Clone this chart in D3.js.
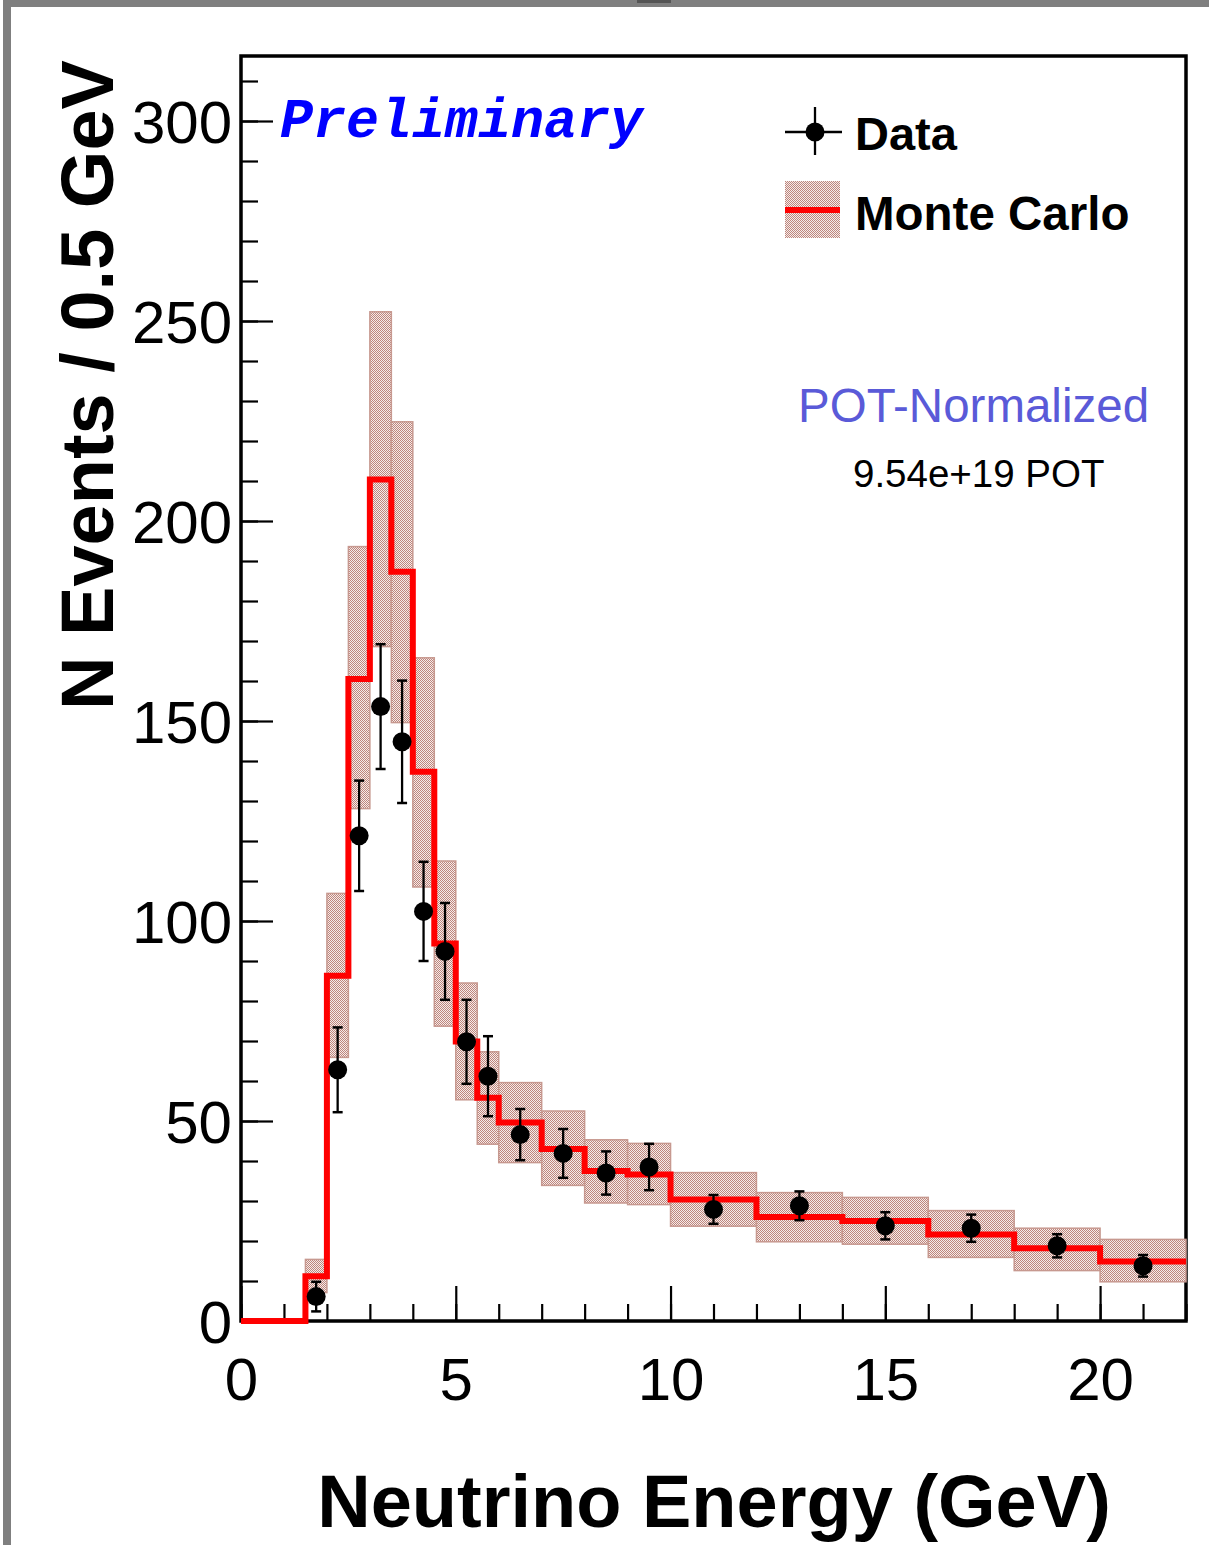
<!DOCTYPE html>
<html><head><meta charset="utf-8">
<script src="https://cdn.jsdelivr.net/npm/d3@7"></script>
<style>body{margin:0;background:#fff;overflow:hidden} svg{display:block}</style>
</head><body>
<script>
// ---- data ----
const binEdges = [0,0.5,1,1.5,2,2.5,3,3.5,4,4.5,5,5.5,6,7,8,9,10,12,14,16,18,20,22];
const mcValues = [0,0,0,11.2,86.3,160.5,210.4,187.3,137.3,94.4,69.9,55.8,49.6,43.0,37.5,36.6,30.4,26.0,25.0,21.6,18.2,14.9];
const mcLow    = [0,0,0,7.1,65.9,128.1,168.6,149.6,108.5,73.7,55.3,44.2,39.6,33.9,29.5,29.1,23.7,19.8,19.2,15.9,12.6,9.8];
const mcHigh   = [0,0,0,15.4,106.9,193.6,252.3,224.8,165.8,115.0,84.5,67.3,59.6,52.5,45.3,44.4,37.1,32.1,30.9,27.6,23.2,20.4];
const dataX    = [1.75,2.25,2.75,3.25,3.75,4.25,4.75,5.25,5.75,6.5,7.5,8.5,9.5,11,13,15,17,19,21];
const dataY    = [6.1,62.8,121.3,153.6,144.8,102.4,92.4,69.8,61.2,46.6,41.9,37.0,38.5,27.9,28.8,23.8,23.2,18.8,13.8];
const dataErr  = [3.7,10.6,13.8,15.6,15.3,12.4,12.1,10.5,10.0,6.4,6.1,5.4,5.8,3.6,3.6,3.4,3.4,2.9,2.7];
const xTicks = [0,5,10,15,20];
const yTicks = [0,50,100,150,200,250,300];
const xMinor = d3.range(0,23,1);
const yMinor = d3.range(0,317,10);

const W = 1209, H = 1545;
const svg = d3.select("body").append("svg").attr("width", W).attr("height", H);
const defs = svg.append("defs");
const pat = defs.append("pattern").attr("id","dots").attr("width",2).attr("height",2)
  .attr("patternUnits","userSpaceOnUse");
pat.append("rect").attr("width",2).attr("height",2).attr("fill","#f4ecea");
pat.append("rect").attr("x",0).attr("y",0).attr("width",1).attr("height",1).attr("fill","#bf857c");
pat.append("rect").attr("x",1).attr("y",1).attr("width",1).attr("height",1).attr("fill","#bf857c");

// window frame decoration
svg.append("rect").attr("x",3).attr("y",0).attr("width",8).attr("height",H).attr("fill","#7f7f7f");
svg.append("rect").attr("x",3).attr("y",0).attr("width",W-3).attr("height",7).attr("fill","#7f7f7f");
svg.append("rect").attr("x",637).attr("y",0).attr("width",34).attr("height",3).attr("fill","#555");

const x = d3.scaleLinear().domain([0,22]).range([241,1186]);
const y = d3.scaleLinear().domain([0,316]).range([1321,57]);

const font = "'Liberation Sans', Arial, sans-serif";

// axes
const gx = svg.append("g").attr("transform",`translate(0,${y(0)})`);
gx.call(d3.axisBottom(x).tickValues(xMinor).tickSizeInner(-17).tickSizeOuter(0).tickFormat(""));
gx.call(g=>g.selectAll(".tick line").attr("stroke","#000").attr("stroke-width",2.2));
gx.select(".domain").remove();
const gx2 = svg.append("g").attr("transform",`translate(0,${y(0)})`);
gx2.call(d3.axisBottom(x).tickValues(xTicks).tickSizeInner(-35).tickSizeOuter(0).tickPadding(36).tickFormat(d3.format("d")));
gx2.select(".domain").remove();
gx2.selectAll(".tick line").attr("stroke","#000").attr("stroke-width",2.2);
gx2.selectAll("text").attr("font-family",font).attr("font-size",60).attr("fill","#000");

const gy = svg.append("g").attr("transform",`translate(${x(0)},0)`);
gy.call(d3.axisLeft(y).tickValues(yMinor).tickSizeInner(-17).tickSizeOuter(0).tickFormat(""));
gy.select(".domain").remove();
gy.selectAll(".tick line").attr("stroke","#000").attr("stroke-width",2.2);
const gy2 = svg.append("g").attr("transform",`translate(${x(0)},0)`);
gy2.call(d3.axisLeft(y).tickValues(yTicks).tickSizeInner(-32).tickSizeOuter(0).tickPadding(9).tickFormat(d3.format("d")));
gy2.select(".domain").remove();
gy2.selectAll(".tick line").attr("stroke","#000").attr("stroke-width",2.2);
gy2.selectAll("text").attr("font-family",font).attr("font-size",60).attr("fill","#000").attr("dy","0.36em");

// frame
svg.append("rect").attr("x",x(0)).attr("y",y(316)-1).attr("width",x(22)-x(0)).attr("height",y(0)-y(316)+1)
  .attr("fill","none").attr("stroke","#000").attr("stroke-width",3.5);

// MC uncertainty band
const bins = mcValues.map((v,i)=>({lo:binEdges[i],hi:binEdges[i+1],v,l:mcLow[i],h:mcHigh[i]}));
svg.append("g").selectAll("rect").data(bins.filter(b=>b.h>0)).join("rect")
  .attr("x",d=>x(d.lo)).attr("width",d=>x(d.hi)-x(d.lo))
  .attr("y",d=>y(d.h)).attr("height",d=>y(d.l)-y(d.h))
  .attr("fill","url(#dots)").attr("stroke","#c79990").attr("stroke-width",1.5);

// MC step line
const pts = [];
bins.forEach(b=>{pts.push([b.lo,b.v]);pts.push([b.hi,b.v]);});
svg.append("path").datum(pts)
  .attr("d", d3.line().x(d=>x(d[0])).y(d=>y(d[1])))
  .attr("fill","none").attr("stroke","#ff0000").attr("stroke-width",6).attr("stroke-linejoin","miter");

// data points
const data = dataX.map((v,i)=>({x:v,y:dataY[i],e:dataErr[i]}));
const gd = svg.append("g");
gd.selectAll("line.err").data(data).join("line").attr("class","err")
  .attr("x1",d=>x(d.x)).attr("x2",d=>x(d.x)).attr("y1",d=>y(d.y-d.e)).attr("y2",d=>y(d.y+d.e))
  .attr("stroke","#000").attr("stroke-width",2.3);
["lo","hi"].forEach(k=>{
  gd.selectAll("line.cap"+k).data(data).join("line").attr("class","cap"+k)
    .attr("x1",d=>x(d.x)-5).attr("x2",d=>x(d.x)+5)
    .attr("y1",d=>y(k==="lo"?d.y-d.e:d.y+d.e)).attr("y2",d=>y(k==="lo"?d.y-d.e:d.y+d.e))
    .attr("stroke","#000").attr("stroke-width",2.5);
});
gd.selectAll("circle").data(data).join("circle")
  .attr("cx",d=>x(d.x)).attr("cy",d=>y(d.y)).attr("r",9.5).attr("fill","#000");

// legend
const lg = svg.append("g");
lg.append("line").attr("x1",785).attr("x2",842).attr("y1",132).attr("y2",132).attr("stroke","#000").attr("stroke-width",2.3);
lg.append("line").attr("x1",815).attr("x2",815).attr("y1",107).attr("y2",155).attr("stroke","#000").attr("stroke-width",2.3);
lg.append("circle").attr("cx",815).attr("cy",132).attr("r",9.5).attr("fill","#000");
lg.append("text").attr("x",855).attr("y",150).text("Data")
  .attr("font-family",font).attr("font-weight","bold").attr("font-size",47).attr("fill","#000");
lg.append("rect").attr("x",785).attr("y",181).attr("width",55).attr("height",57).attr("fill","url(#dots)");
lg.append("line").attr("x1",785).attr("x2",840).attr("y1",210).attr("y2",210).attr("stroke","#ff0000").attr("stroke-width",6);
lg.append("text").attr("x",855).attr("y",230).text("Monte Carlo")
  .attr("font-family",font).attr("font-weight","bold").attr("font-size",47.5).attr("fill","#000");

// annotations
svg.append("text").attr("x",280).attr("y",137).text("Preliminary")
  .attr("font-family","'Liberation Mono', 'Courier New', monospace").attr("font-weight","bold")
  .attr("font-style","italic").attr("font-size",55).attr("fill","#0000ff");
svg.append("text").attr("x",798).attr("y",422).text("POT-Normalized")
  .attr("font-family",font).attr("font-size",47.5).attr("fill","#5a5ad8");
svg.append("text").attr("x",853).attr("y",487).text("9.54e+19 POT")
  .attr("font-family",font).attr("font-size",38.5).attr("fill","#000");

// axis titles
svg.append("text").attr("x",714).attr("y",1527).attr("text-anchor","middle").text("Neutrino Energy (GeV)")
  .attr("font-family",font).attr("font-weight","bold").attr("font-size",74).attr("fill","#000");
svg.append("text").attr("transform","translate(113,385) rotate(-90)").attr("text-anchor","middle")
  .text("N Events / 0.5 GeV")
  .attr("font-family",font).attr("font-weight","bold").attr("font-size",74).attr("fill","#000");
</script>
</body></html>
